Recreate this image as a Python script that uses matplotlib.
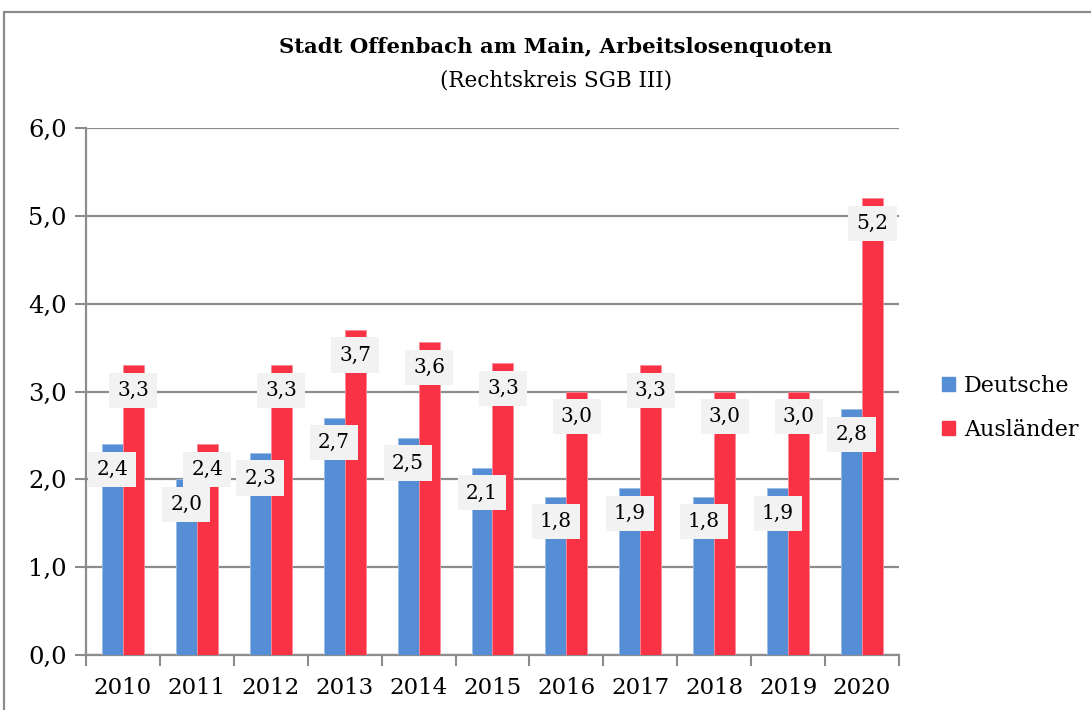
import matplotlib
matplotlib.use("Agg")
import matplotlib.pyplot as plt
from matplotlib.patches import Rectangle, Patch
import numpy as np

years = ["2010", "2011", "2012", "2013", "2014", "2015", "2016", "2017", "2018", "2019", "2020"]
deutsche = [2.4, 2.0, 2.3, 2.7, 2.47, 2.13, 1.8, 1.9, 1.8, 1.9, 2.8]
auslaender = [3.3, 2.4, 3.3, 3.7, 3.56, 3.32, 3.0, 3.3, 3.0, 3.0, 5.2]
yticks = [0, 1, 2, 3, 4, 5, 6]
series_names = ["Deutsche", "Ausländer"]

BLUE = "#558ED5"
RED = "#F93246"
GRID = "#8C8C8C"
FONT = "DejaVu Serif"

plt.rcParams['font.family'] = [FONT]

fig = plt.figure(figsize=(10.91, 7.10), dpi=100)
ax = fig.add_axes([86/1091, 1-655/710, (899-86)/1091, (655-128)/710])

x = np.arange(len(years))
w = 0.284
ax.bar(x - w/2, deutsche, w, color=BLUE, edgecolor="#9DBCE6", linewidth=0.6, zorder=3)
ax.bar(x + w/2, auslaender, w, color=RED, edgecolor="#FC8A95", linewidth=0.6, zorder=3)

for xs, vals in ((x - w/2, deutsche), (x + w/2, auslaender)):
    for xi, v in zip(xs, vals):
        ax.annotate(f"{v:.1f}".replace(".", ","), (xi, v), xytext=(0, -18),
                    textcoords="offset points", ha="center", va="center",
                    fontsize=14.5, zorder=5,
                    bbox=dict(boxstyle="square,pad=0.4", fc="#F2F2F2", ec="none"))

ax.set_xlim(-0.5, len(years) - 0.5)
ax.set_ylim(0, 6)
ax.set_yticks(yticks)
ax.set_yticklabels([f"{t:.1f}".replace(".", ",") for t in yticks], fontsize=17.5)
ax.set_xticks(np.arange(len(years) + 1) - 0.5, minor=False)
ax.set_xticklabels([])
ax.set_xticks(x, minor=True)
ax.set_xticklabels(years, minor=True, fontsize=16.5)
ax.tick_params(axis="x", which="major", length=8, width=1.5, color=GRID, direction="out")
ax.tick_params(axis="x", which="minor", length=0, pad=16)
ax.tick_params(axis="y", length=8, width=1.5, color=GRID, direction="out", pad=6)

ax.yaxis.grid(True, color=GRID, linewidth=1.6, zorder=0)
ax.set_axisbelow(True)
for s in ("top", "right"):
    ax.spines[s].set_visible(False)
for s in ("left", "bottom"):
    ax.spines[s].set_color(GRID)
    ax.spines[s].set_linewidth(1.6)

fig.text(556/1091, 1-47/710, "Stadt Offenbach am Main, Arbeitslosenquoten",
         ha="center", va="center", fontsize=15.3, fontweight="bold")
fig.text(556/1091, 1-80/710, "(Rechtskreis SGB III)",
         ha="center", va="center", fontsize=15.5)

handles = [Patch(color=BLUE), Patch(color=RED)]
fig.legend(handles, series_names, loc="center left", bbox_to_anchor=(922/1091, 1-408/710),
           frameon=False, fontsize=16, handlelength=0.6, handleheight=0.6,
           handletextpad=0.4, labelspacing=1.0)

fig.add_artist(Rectangle((4/1091, -0.1), 1.2, 1.1 - 12/710, transform=fig.transFigure,
                         fill=False, ec="#8C8C8C", lw=1.6))

fig.savefig("out.png", dpi=100)
